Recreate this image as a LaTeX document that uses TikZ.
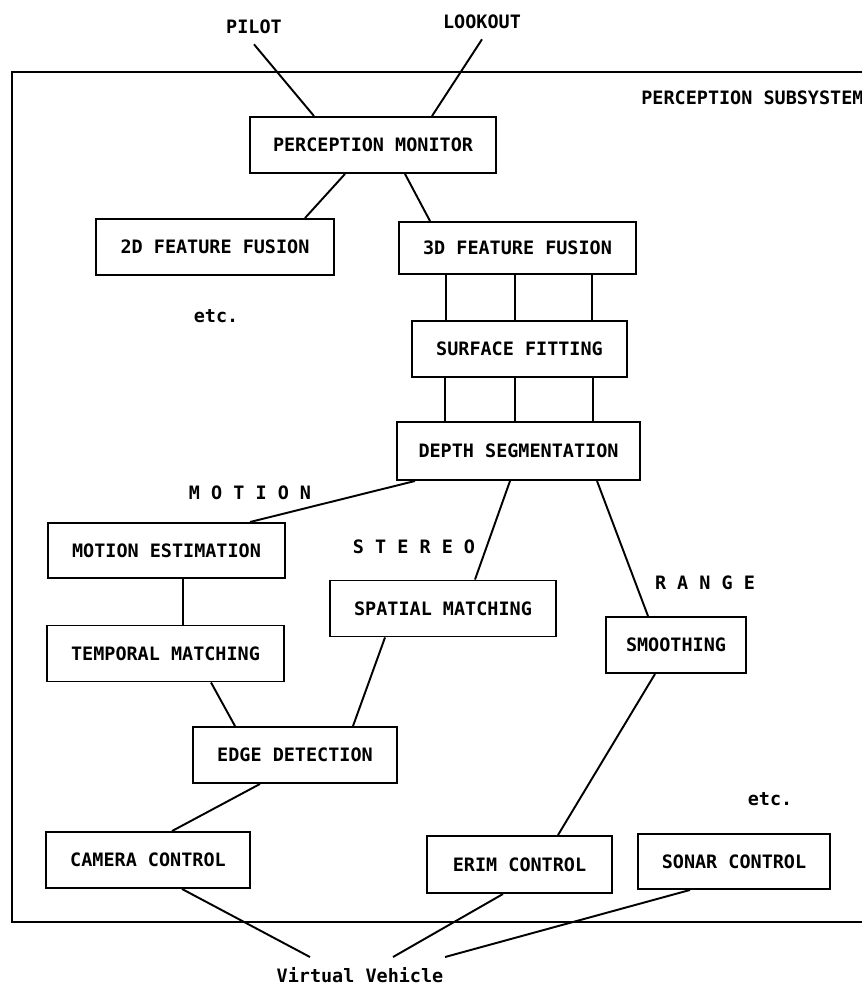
\documentclass[tikz,border=0pt]{standalone}
\usepackage{fontspec}
\setmainfont{DejaVu Sans Mono}
\tikzset{
  blk/.style={draw, line width=1.1pt, minimum height=1.12cm, inner sep=0pt, font=\fontsize{10.5}{12}\bfseries},
  lbl/.style={inner sep=0pt, font=\fontsize{10.5}{12}\bfseries},
  con/.style={line width=1.1pt}
}
\begin{document}
\begin{tikzpicture}
\useasboundingbox (0,0) rectangle (17.22,-19.92);
\draw [line width=1.1pt] (18,-1.44) -- (0.24,-1.44) -- (0.24,-18.44) -- (18,-18.44);
\node [lbl, anchor=west] (sub) at (12.82,-1.96) {PERCEPTION SUBSYSTEM};
\node [lbl] (pilot) at (5.08,-0.54) {PILOT};
\node [lbl] (look) at (9.64,-0.44) {LOOKOUT};
\node [blk, minimum width=4.92cm] (mon) at (7.46,-2.90) {PERCEPTION MONITOR};
\node [blk, minimum width=4.76cm] (f2d) at (4.30,-4.94) {2D FEATURE FUSION};
\node [blk, minimum width=4.74cm, minimum height=1.04cm] (f3d) at (10.35,-4.96) {3D FEATURE FUSION};
\node [lbl] (etc1) at (4.32,-6.32) {etc.};
\node [blk, minimum width=4.30cm] (surf) at (10.39,-6.98) {SURFACE FITTING};
\node [blk, minimum width=4.86cm, minimum height=1.16cm] (depth) at (10.37,-9.02) {DEPTH SEGMENTATION};
\node [lbl] (mot) at (5.00,-9.86) {M O T I O N};
\node [lbl] (ste) at (8.28,-10.94) {S T E R E O};
\node [lbl] (rng) at (14.10,-11.66) {R A N G E};
\node [blk, minimum width=4.74cm, minimum height=1.10cm] (motest) at (3.33,-11.01) {MOTION ESTIMATION};
\node [blk, minimum width=4.74cm] (temp) at (3.31,-13.07) {TEMPORAL MATCHING};
\node [blk, minimum width=4.52cm] (spat) at (8.86,-12.17) {SPATIAL MATCHING};
\node [blk, minimum width=2.80cm] (smooth) at (13.52,-12.90) {SMOOTHING};
\node [blk, minimum width=4.08cm] (edge) at (5.90,-15.10) {EDGE DETECTION};
\node [lbl] (etc2) at (15.40,-15.98) {etc.};
\node [blk, minimum width=4.08cm] (cam) at (2.96,-17.20) {CAMERA CONTROL};
\node [blk, minimum width=3.70cm, minimum height=1.14cm] (erim) at (10.39,-17.29) {ERIM CONTROL};
\node [blk, minimum width=3.84cm, minimum height=1.10cm] (sonar) at (14.68,-17.23) {SONAR CONTROL};
\node [lbl] (vv) at (7.20,-19.50) {Virtual Vehicle};
\draw [con] ([yshift=-0.2cm]pilot.south) -- ([xshift=-1.18cm]mon.north);
\draw [con] ([yshift=-0.2cm]look.south) -- ([xshift=1.18cm]mon.north);
\draw [con] ([xshift=-0.56cm]mon.south) -- ([xshift=1.80cm]f2d.north);
\draw [con] ([xshift=0.64cm]mon.south) -- ([xshift=-1.75cm]f3d.north);
\foreach \dx in {-1.47,-0.09,1.45}
  \draw [con] ([xshift=\dx cm]surf.north) -- ([xshift=\dx cm]surf.north |- f3d.south);
\foreach \dx in {-1.47,-0.07,1.49}
  \draw [con] ([xshift=\dx cm]depth.north) -- ([xshift=\dx cm]depth.north |- surf.south);
\draw [con] ([xshift=-2.07cm]depth.south) -- ([xshift=1.67cm]motest.north);
\draw [con] ([xshift=-0.17cm]depth.south) -- ([xshift=0.64cm]spat.north);
\draw [con] ([xshift=1.57cm]depth.south) -- ([xshift=-0.56cm]smooth.north);
\draw [con] ([xshift=0.33cm]motest.south) -- ([xshift=0.33cm]motest.south |- temp.north);
\draw [con] ([xshift=0.91cm]temp.south) -- ([xshift=-1.20cm]edge.north);
\draw [con] ([xshift=-1.16cm]spat.south) -- ([xshift=1.16cm]edge.north);
\draw [con] ([xshift=-0.70cm]edge.south) -- ([xshift=0.48cm]cam.north);
\draw [con] ([xshift=-0.42cm]smooth.south) -- ([xshift=0.77cm]erim.north);
\draw [con] ([xshift=0.68cm]cam.south) -- ([xshift=-1.00cm,yshift=0.20cm]vv.north);
\draw [con] ([xshift=-0.33cm]erim.south) -- ([xshift=0.66cm,yshift=0.20cm]vv.north);
\draw [con] ([xshift=-0.88cm]sonar.south) -- ([xshift=1.70cm,yshift=0.20cm]vv.north);
\end{tikzpicture}
\end{document}
